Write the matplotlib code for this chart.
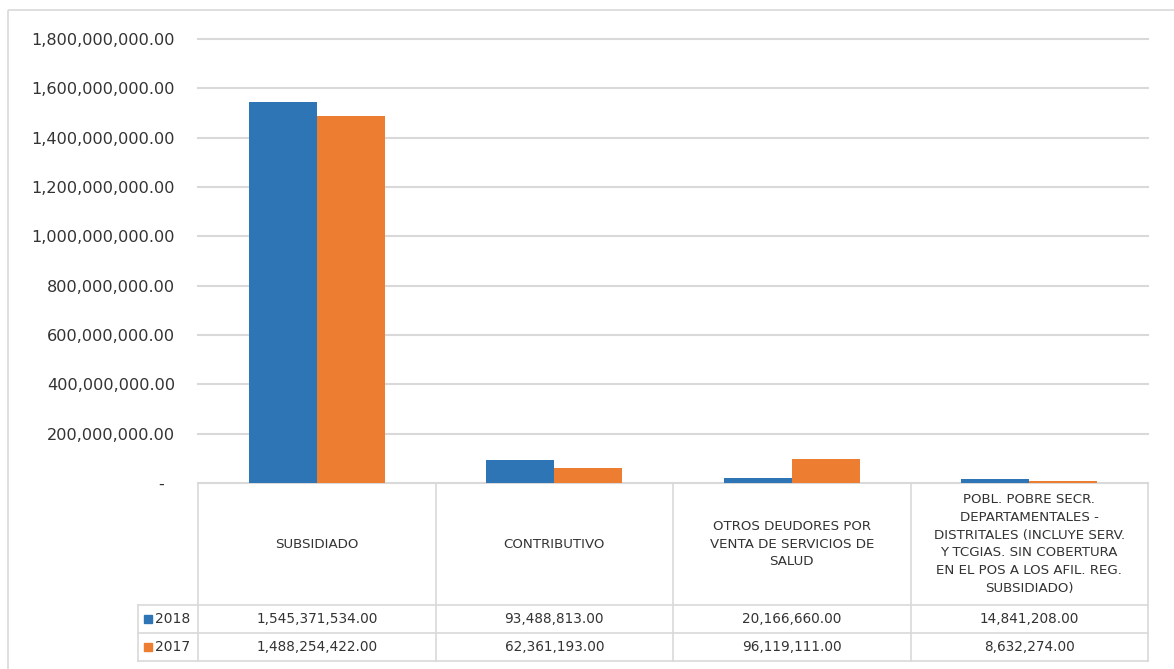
import matplotlib.pyplot as plt
import matplotlib.patches as mpatches
import numpy as np

# datos
categorias = [
    "SUBSIDIADO",
    "CONTRIBUTIVO",
    "OTROS DEUDORES POR\nVENTA DE SERVICIOS DE\nSALUD",
    "POBL. POBRE SECR.\nDEPARTAMENTALES -\nDISTRITALES (INCLUYE SERV.\n"
    "Y TCGIAS. SIN COBERTURA\nEN EL POS A LOS AFIL. REG.\nSUBSIDIADO)",
]
series = ["2018", "2017"]
valores_2018 = [1545371534.00, 93488813.00, 20166660.00, 14841208.00]
valores_2017 = [1488254422.00, 62361193.00, 96119111.00, 8632274.00]
colores = ["#2E75B6", "#ED7D31"]

W, H = 1174, 669
TXT = "#333333"
GRIS = "#d9d9d9"
plt.rcParams["font.family"] = ["DejaVu Sans"]

fig = plt.figure(figsize=(W / 100, H / 100), dpi=100)

# capa en pixeles para marco y tabla
capa = fig.add_axes([0, 0, 1, 1])
capa.set_xlim(0, W)
capa.set_ylim(H, 0)
capa.axis("off")
capa.add_patch(mpatches.Rectangle((8, 10), W + 10, H, fill=False, ec=GRIS, lw=1.2))

# area del grafico
x0, x1, y0, y1 = 198, 1148, 483, 39
ax = fig.add_axes([x0 / W, 1 - y0 / H, (x1 - x0) / W, (y0 - y1) / H])
ax.patch.set_alpha(0)

x = np.arange(len(categorias))
ancho = 0.286
for i, (vals, col) in enumerate(zip([valores_2018, valores_2017], colores)):
    ax.bar(x + (i - 0.5) * ancho, vals, ancho, color=col, zorder=3)

ax.set_xlim(-0.5, len(categorias) - 0.5)
ax.set_ylim(0, 1.8e9)
ax.set_yticks(np.arange(0, 1.8e9 + 1, 2e8))
ax.set_yticklabels(["-  " if v == 0 else f"{v:,.2f}" for v in ax.get_yticks()])
ax.set_xticks([])
ax.tick_params(axis="y", length=0, pad=16.5, labelsize=11.6, labelcolor=TXT)
ax.yaxis.grid(True, color=GRIS, lw=1.5, zorder=0)
for g in ax.get_ygridlines():
    g.set_clip_on(False)
for s in ax.spines.values():
    s.set_visible(False)

# tabla de datos
bordes_x = np.linspace(x0, x1, len(categorias) + 1)
filas_y = [483, 605, 633, 661]
lw_t = 1.2
capa.plot([x0, x1], [filas_y[0], filas_y[0]], color=GRIS, lw=lw_t)
for yy in filas_y[1:]:
    capa.plot([138, x1], [yy, yy], color=GRIS, lw=lw_t)
for xx in bordes_x:
    capa.plot([xx, xx], [filas_y[0], filas_y[-1]], color=GRIS, lw=lw_t)
capa.plot([138, 138], [filas_y[1], filas_y[-1]], color=GRIS, lw=lw_t)

centros = (bordes_x[:-1] + bordes_x[1:]) / 2
for cx, cat in zip(centros, categorias):
    capa.text(cx, (filas_y[0] + filas_y[1]) / 2, cat, ha="center", va="center",
              fontsize=9.6, color=TXT, linespacing=1.47)

for j, (nombre, vals, col) in enumerate(zip(series, [valores_2018, valores_2017], colores)):
    cy = (filas_y[j + 1] + filas_y[j + 2]) / 2
    capa.add_patch(mpatches.Rectangle((144, cy - 4), 8, 8, color=col))
    capa.text(155, cy, nombre, ha="left", va="center", fontsize=10, color=TXT)
    for cx, v in zip(centros, vals):
        capa.text(cx, cy, f"{v:,.2f}", ha="center", va="center", fontsize=9.8, color=TXT)

fig.savefig("out.png", dpi=100)
